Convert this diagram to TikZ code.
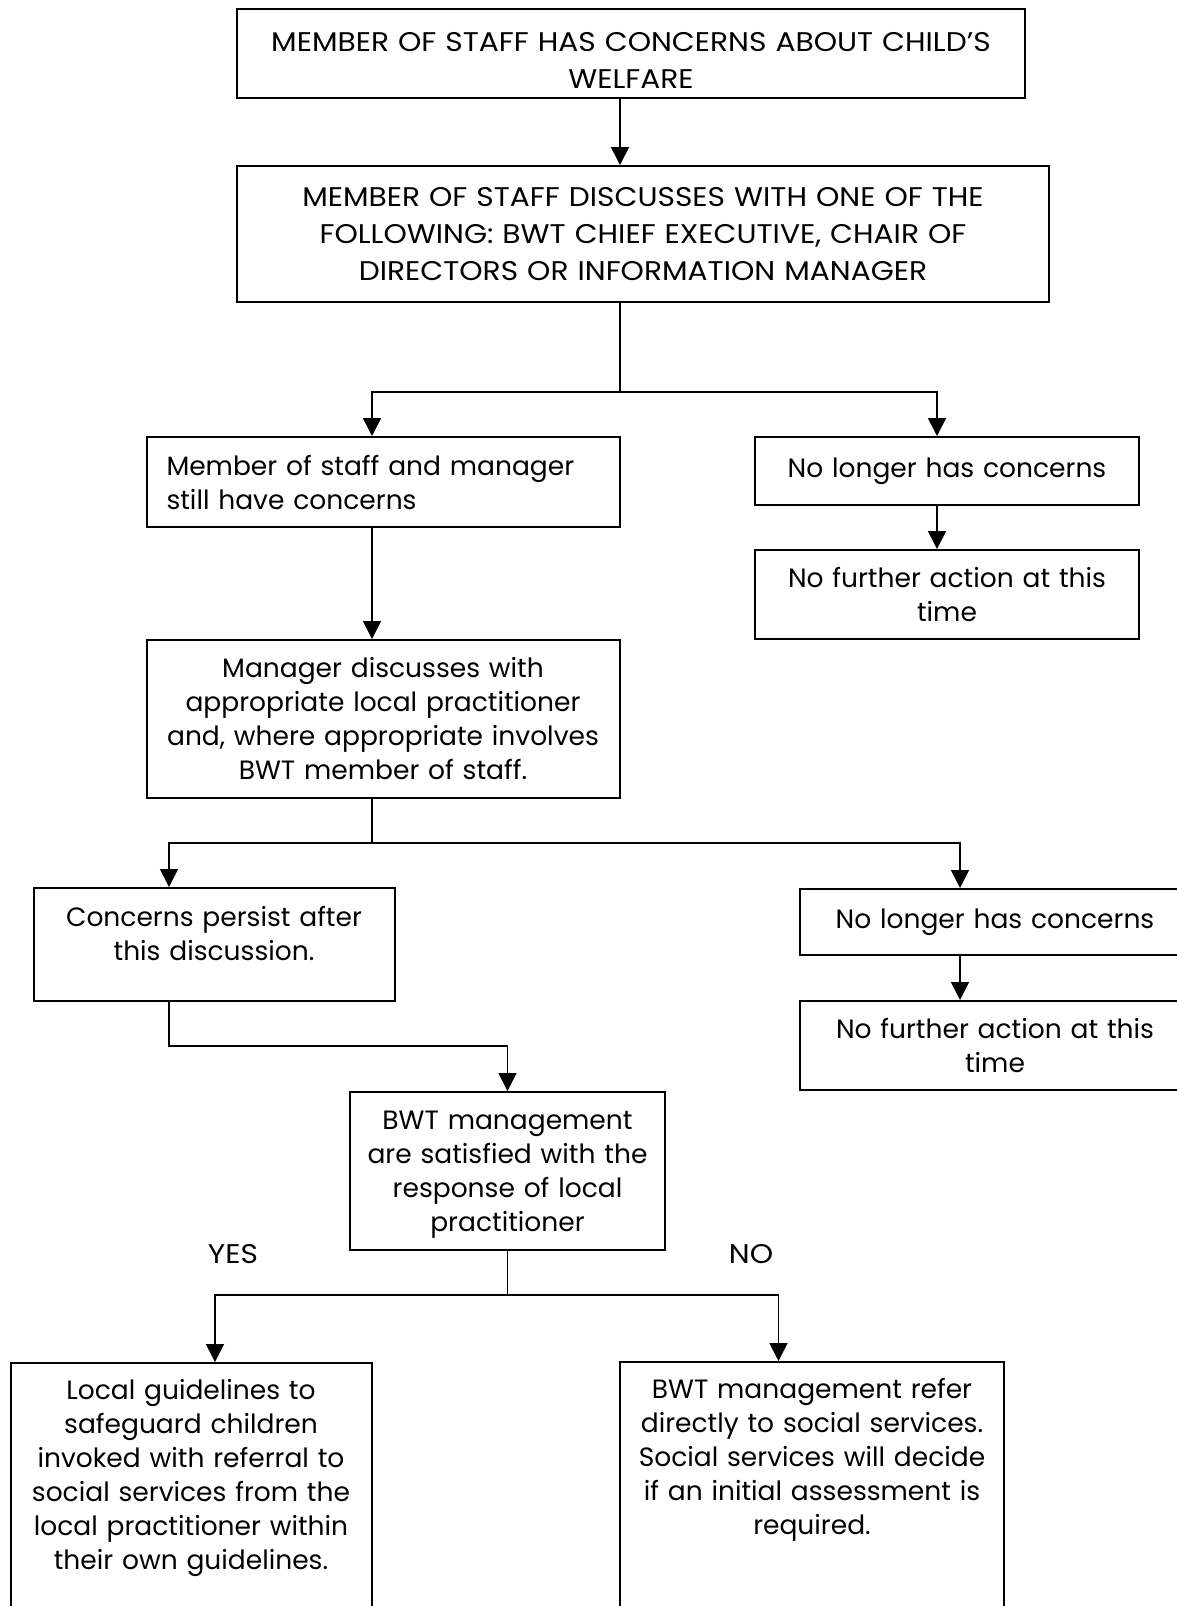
\documentclass[tikz,border=0pt]{standalone}
\usepackage{fontspec}
\setmainfont{Poppins}
\newfontfamily\lcfont{Poppins}
\newfontfamily\capfont[FakeStretch=1.1]{Poppins}
\usetikzlibrary{arrows.meta}

\newcommand{\lctext}{\lcfont\fontsize{26.5}{34}\selectfont}
\newcommand{\captext}{\capfont\fontsize{27}{37}\selectfont}

\begin{document}
\begin{tikzpicture}[x=1pt,y=-1pt,
    box/.style={draw, line width=2pt, inner sep=0pt, align=center, font=\lctext},
    capbox/.style={box, font=\captext},
    arr/.style={-{Triangle[length=18pt,width=18pt]}, line width=1.6pt},
    label/.style={font=\captext, inner sep=0pt}]
  \useasboundingbox (0,0) rectangle (1177,1606);

  % top boxes
  \node [capbox, minimum width=788pt, minimum height=89pt, text width=770pt, name=start] at (631,53.5)
    {\rule{0pt}{33pt}MEMBER OF STAFF HAS CONCERNS ABOUT CHILD’S\\WELFARE};
  \node [capbox, minimum width=812pt, minimum height=136pt, text width=790pt, name=discuss] at (643,234)
    {MEMBER OF STAFF DISCUSSES WITH ONE OF THE\\FOLLOWING: BWT CHIEF EXECUTIVE, CHAIR OF\\DIRECTORS OR INFORMATION MANAGER};

  % first split
  \node [box, align=left, minimum width=473pt, minimum height=90pt, text width=433pt, name=still] at (383,482)
    {Member of staff and manager\\still have concerns};
  \node [box, minimum width=384pt, minimum height=68pt, text width=370pt, name=nolonger1] at (947,471)
    {No longer has concerns};
  \node [box, minimum width=384pt, minimum height=89pt, text width=370pt, name=nofurther1] at (947,594.5)
    {No further action at this\\time};
  \node [box, minimum width=473pt, minimum height=158pt, text width=455pt, name=manager] at (383,719)
    {Manager discusses with\\appropriate local practitioner\\and, where appropriate involves\\BWT member of staff.};

  % second split
  \node [box, minimum width=361pt, minimum height=113pt, text width=350pt, name=persist] at (214,944.5)
    {Concerns persist after\\this discussion.\\[-12pt]\mbox{}};
  \node [box, minimum width=390pt, minimum height=66pt, text width=370pt, name=nolonger2] at (995,922)
    {No longer has concerns};
  \node [box, minimum width=390pt, minimum height=89pt, text width=370pt, name=nofurther2] at (995,1045.5)
    {No further action at this\\time};

  % decision
  \node [box, minimum width=315pt, minimum height=158pt, text width=305pt, name=satisfied] at (507.5,1171)
    {\rule{0pt}{26pt}BWT management\\are satisfied with the\\response of local\\practitioner};
  \node [label, name=yes] at (233,1254) {YES};
  \node [label, name=no] at (751,1254) {NO};

  % outcomes
  \node [box, anchor=north, minimum width=361pt, text width=355pt, inner ysep=16pt, text depth=250pt, name=guidelines] at (191,1362)
    {Local guidelines to\\safeguard children\\invoked with referral to\\social services from the\\local practitioner within\\their own guidelines.};
  \node [box, anchor=north, minimum width=384pt, text width=375pt, inner ysep=16pt, text depth=250pt, name=refer] at (812,1361)
    {BWT management refer\\directly to social services.\\Social services will decide\\if an initial assessment is\\required.};

  % junction points
  \coordinate (s1) at (620,392);
  \coordinate (s1l) at (372,0);
  \coordinate (s1r) at (937,0);
  \coordinate (s2) at (372,843);
  \coordinate (s2l) at (169,0);
  \coordinate (s2r) at (960,0);
  \coordinate (s3) at (169,1046);
  \coordinate (s4) at (507.5,1295);
  \coordinate (s4l) at (215,0);
  \coordinate (s4r) at (778.5,0);

  % connectors
  \draw [arr] (start.south -| s1) -- (discuss.north -| s1);
  \draw [line width=1.6pt] (discuss.south -| s1) -- (s1);
  \draw [arr] (s1) -| (s1l |- still.north);
  \draw [arr] (s1) -| (s1r |- nolonger1.north);
  \draw [arr] (nolonger1.south -| s1r) -- (nofurther1.north -| s1r);
  \draw [arr] (still.south -| s1l) -- (manager.north -| s1l);
  \draw [line width=1.6pt] (manager.south -| s2) -- (s2);
  \draw [arr] (s2) -| (s2l |- persist.north);
  \draw [arr] (s2) -| (s2r |- nolonger2.north);
  \draw [arr] (nolonger2.south -| s2r) -- (nofurther2.north -| s2r);
  \draw [arr] (persist.south -| s3) -- (s3) -| (satisfied.north);
  \draw [line width=1.6pt] (satisfied.south) -- (s4);
  \draw [arr] (s4) -| (s4l |- guidelines.north);
  \draw [arr] (s4) -| (s4r |- refer.north);
\end{tikzpicture}
\end{document}
